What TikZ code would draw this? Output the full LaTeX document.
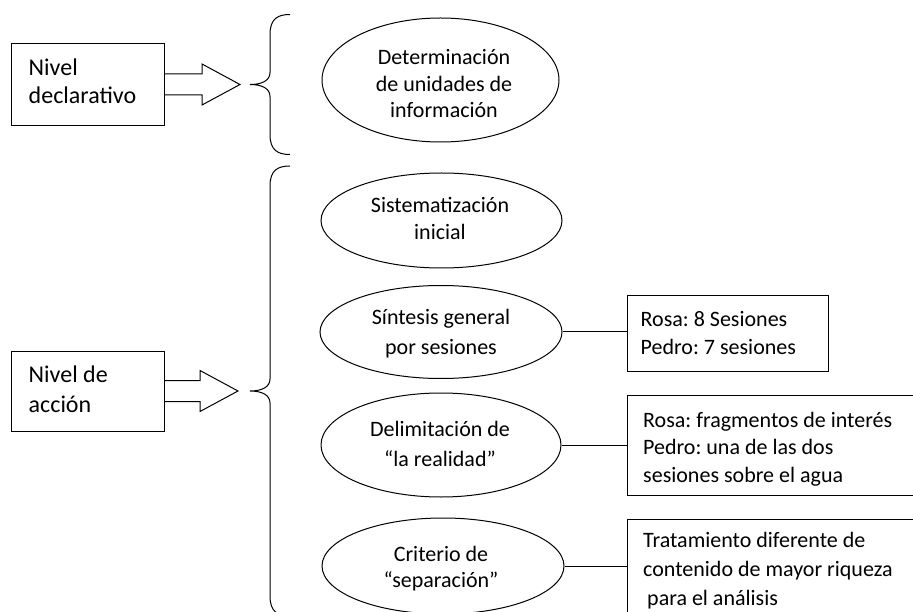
\documentclass[tikz, border = 0pt]{standalone}
\usepackage{fontspec}
\setmainfont{Carlito}
\frenchspacing
\usetikzlibrary{
    shapes.geometric,
    calc
}
\tikzset {
    oval/.style = {ellipse, draw, line width = 1pt, inner sep = 0pt},
    frame/.style = {rectangle, draw, line width = 1pt, inner sep = 0pt},
    oval text/.style = {
        inner sep = 0pt, align = center, anchor = base,
        font = \fontsize{22}{#1}\selectfont
    },
    oval text/.default = 27,
    level text/.style = {
        inner sep = 0pt, align = left, anchor = base west,
        font = \fontsize{24}{#1}\selectfont
    },
    level text/.default = 30,
    note text/.style = {
        inner sep = 0pt, align = left, anchor = base west,
        font = \fontsize{22}{#1}\selectfont
    },
    note text/.default = 28,
    link/.style = {line width = 1pt},
}
% hollow block arrow from the east side of a box to a tip
\newcommand{\hollowarrow}[2]{
    \draw [link, line join = miter]
        ($(#1.east) + (0, -10.5)$) -- ($(#2) + (-38, -10.5)$)
        -- ($(#2) + (-38, -20.5)$) -- (#2) -- ($(#2) + (-38, 20.5)$)
        -- ($(#2) + (-38, 10.5)$) -- ($(#1.east) + (0, 10.5)$);
}
% curly brace opening to the right, tip at #1, half height #2
\newcommand{\curlybrace}[2]{
    \draw [link]
        ($(#1) + (40, -#2)$) .. controls ($(#1) + (28, -#2)$) and ($(#1) + (20, -#2 + 4)$) .. ($(#1) + (20, -#2 + 20)$)
        -- ($(#1) + (20, -12)$) .. controls ($(#1) + (20, -4)$) and ($(#1) + (12, 0)$) .. (#1)
        .. controls ($(#1) + (12, 0)$) and ($(#1) + (20, 4)$) .. ($(#1) + (20, 12)$)
        -- ($(#1) + (20, #2 - 20)$) .. controls ($(#1) + (20, #2 - 4)$) and ($(#1) + (28, #2)$) .. ($(#1) + (40, #2)$);
}

\begin{document}
\begin{tikzpicture}[x = 1pt, y = -1pt]
    \clip (0, 0) rectangle (913, 612);
    \fill [white] (0, 0) rectangle (913, 612);

    % texts are placed by the baseline of their last line
    \node (decl) [frame, minimum width = 153, minimum height = 82] at (87.5, 84.5) {};
    \node (declTxt) [level text = 27.5] at ($(decl.north west) + (18, 60.5)$) {Nivel\\declarativo};
    \node (acc) [frame, minimum width = 153, minimum height = 80] at (87.5, 391) {};
    \node (accTxt) [level text] at ($(acc.north west) + (18, 62)$) {Nivel de\\acción};

    \coordinate (tipA) at (250, 84.5);
    \coordinate (tipB) at (250, 391);
    \coordinate (headA) at ($(tipA) + (-10, 0)$);
    \coordinate (headB) at ($(tipB) + (-12, 0)$);
    \hollowarrow{decl}{headA}
    \hollowarrow{acc}{headB}
    \curlybrace{tipA}{70}
    \curlybrace{tipB}{225}

    \node (det) [oval, minimum width = 237, minimum height = 124] at (440.5, 80) {};
    \node (detTxt) [oval text = 26.5] at ($(det.center) + (3.5, 38)$) {Determinación\\de unidades de\\información};
    \node (sis) [oval, minimum width = 241, minimum height = 95] at (441.5, 220.5) {};
    \node (sisTxt) [oval text] at ($(sis.center) + (-1.5, 19.5)$) {Sistematización\\inicial};
    \node (sin) [oval, minimum width = 242, minimum height = 93] at (441, 332) {};
    \node (sinTxt) [oval text = 30] at ($(sin.center) + (0, 23)$) {Síntesis general\\por sesiones};
    \node (del) [oval, minimum width = 240, minimum height = 104] at (441, 445) {};
    \node (delTxt) [oval text = 30] at ($(del.center) + (-1, 21.7)$) {Delimitación de\\“la realidad”};
    \node (cri) [oval, minimum width = 242, minimum height = 96] at (443, 566) {};
    \node (criTxt) [oval text = 26] at ($(cri.center) + (-2, 21.7)$) {Criterio de\\“separación”};

    \node (rosa) [frame, minimum width = 201, minimum height = 75] at (727.5, 333.5) {};
    \node (rosaTxt) [note text] at ($(rosa.north west) + (14, 59)$) {Rosa: 8 Sesiones\\Pedro: 7 sesiones};
    \node (frag) [frame, minimum width = 300, minimum height = 100, anchor = north west] at (627, 395) {};
    \node (fragTxt) [note text = 27.5] at ($(frag.north west) + (16, 87)$) {Rosa: fragmentos de interés\\Pedro: una de las dos\\sesiones sobre el agua};
    \node (trat) [frame, minimum width = 300, minimum height = 100, anchor = north west] at (627, 519) {};
    \node (tratTxt) [note text = 29] at ($(trat.north west) + (16, 86)$) {Tratamiento diferente de\\contenido de mayor riqueza\\\hspace{4pt}para el análisis};

    \draw [link] (sin.east) -- (sin.east -| rosa.west);
    \draw [link] (del.east) -- (del.east -| frag.west);
    \draw [link] (cri.east) -- (cri.east -| trat.west);
\end{tikzpicture}
\end{document}
